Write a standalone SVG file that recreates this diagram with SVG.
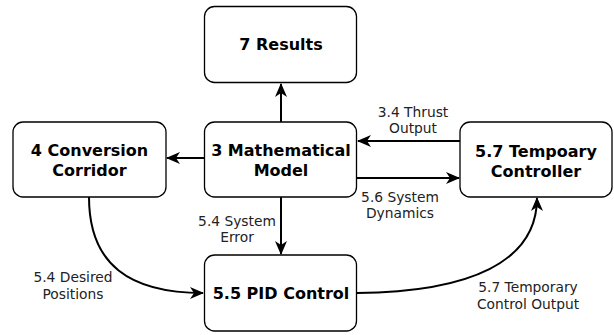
<svg xmlns="http://www.w3.org/2000/svg" width="614" height="335" viewBox="0 0 614 335">
<style>
.box{fill:#fff;stroke:#000;stroke-width:1.3}
.nt{font-family:"DejaVu Sans",Verdana,sans-serif;font-weight:bold;font-size:16px;fill:#000;text-anchor:middle}
.lt{font-family:"DejaVu Sans",Verdana,sans-serif;font-size:13.8px;fill:#222;text-anchor:middle}
.c{fill:none;stroke:#000;stroke-width:2}
</style>
<defs>
<marker id="ah" markerUnits="userSpaceOnUse" markerWidth="14" markerHeight="12" viewBox="0 0 14 12" refX="13" refY="6" orient="auto">
<path d="M0,0 L14,6 L0,12 L4,6 z" fill="#000"/>
</marker>
</defs>
<rect width="614" height="335" fill="#fff"/>
<g id="connectors">
<path class="c" d="M281,122 L281,84" marker-end="url(#ah)"/>
<path class="c" d="M204,158 L167,158" marker-end="url(#ah)"/>
<path class="c" d="M460,141 L358,141" marker-end="url(#ah)"/>
<path class="c" d="M357,178 L459,178" marker-end="url(#ah)"/>
<path class="c" d="M281,197 L281,254" marker-end="url(#ah)"/>
<path class="c" d="M89,197 C89,265 130,293 203,293" marker-end="url(#ah)"/>
<path class="c" d="M357,293 C470,292 537,262 537,198" marker-end="url(#ah)"/>
<text class="lt" x="413" y="117">3.4 Thrust</text>
<text class="lt" x="413" y="133">Output</text>
<text class="lt" x="400" y="202">5.6 System</text>
<text class="lt" x="400" y="218">Dynamics</text>
<text class="lt" x="237" y="226">5.4 System</text>
<text class="lt" x="237" y="242">Error</text>
<text class="lt" x="73" y="282">5.4 Desired</text>
<text class="lt" x="73" y="299">Positions</text>
<text class="lt" x="528" y="292">5.7 Temporary</text>
<text class="lt" x="528" y="309">Control Output</text>
</g>
<g id="results">
<rect class="box" x="204.5" y="6.5" width="152" height="76" rx="10"/>
<text class="nt" x="281" y="50">7 Results</text>
</g>
<g id="model">
<rect class="box" x="204.5" y="122" width="152" height="75" rx="10"/>
<text class="nt" x="281" y="156">3 Mathematical</text>
<text class="nt" x="281" y="176">Model</text>
</g>
<g id="corridor">
<rect class="box" x="13" y="122" width="153" height="75" rx="10"/>
<text class="nt" x="89.5" y="156">4 Conversion</text>
<text class="nt" x="89.5" y="176">Corridor</text>
</g>
<g id="tempoary">
<rect class="box" x="460" y="122" width="152" height="75" rx="10"/>
<text class="nt" x="536" y="157">5.7 Tempoary</text>
<text class="nt" x="536" y="177">Controller</text>
</g>
<g id="pid">
<rect class="box" x="204.5" y="255" width="152" height="76" rx="10"/>
<text class="nt" x="281" y="299">5.5 PID Control</text>
</g>
</svg>
